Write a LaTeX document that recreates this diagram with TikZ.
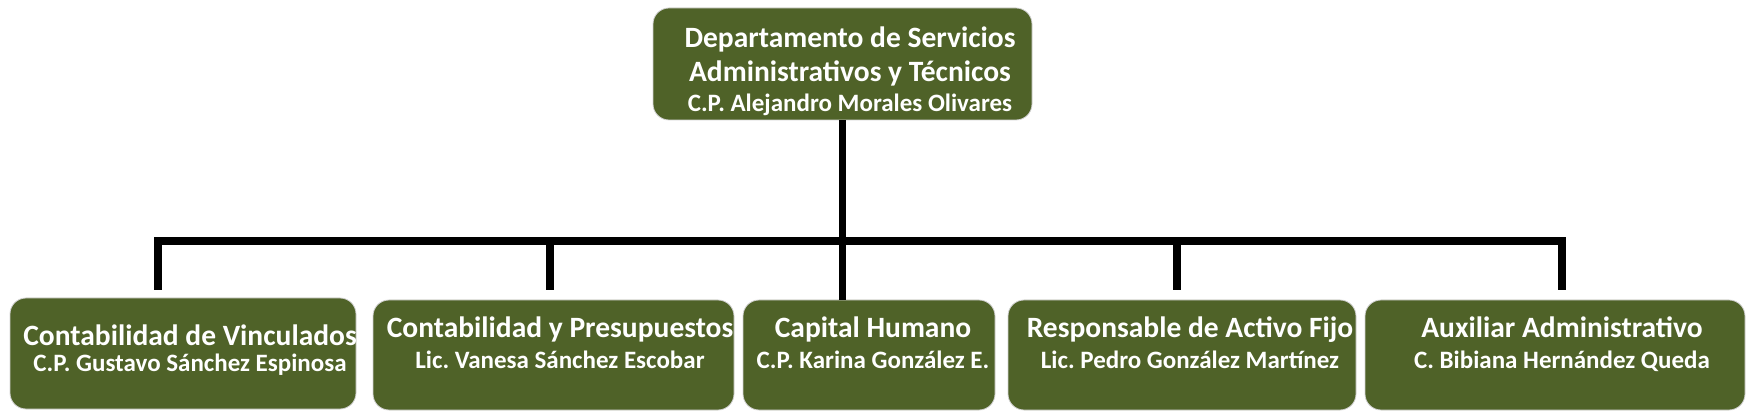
\documentclass[tikz,border=0pt]{standalone}
\usepackage{fontspec}
\setmainfont{Carlito}
\definecolor{olive}{HTML}{4F6228}
\frenchspacing
\begin{document}
\begin{tikzpicture}[x=1pt,y=-1pt,
  box/.style={draw=gray!35,line width=0.8pt,fill=olive,rounded corners=16pt,inner sep=0pt},
  tA/.style={text=white,font=\bfseries\fontsize{29.5}{34}\selectfont,inner sep=0pt,anchor=base},
  tB/.style={text=white,font=\bfseries\fontsize{25}{30}\selectfont,inner sep=0pt,anchor=base},
  conn/.style={line width=7.5pt,line join=miter,line cap=rect}]
\useasboundingbox (0,0) rectangle (1753,419);
% boxes (corners given in pixels)
\node[box,minimum width=379pt,minimum height=112pt] (top) at (842.5,64) {};
\node[box,minimum width=346pt,minimum height=111pt] (b1) at (183,353.5) {};
\node[box,minimum width=361pt,minimum height=110pt] (b2) at (553.5,355) {};
\node[box,minimum width=252pt,minimum height=110pt] (b3) at (869,355) {};
\node[box,minimum width=348pt,minimum height=110pt] (b4) at (1182,355) {};
\node[box,minimum width=380pt,minimum height=110pt] (b5) at (1555,355) {};
% texts
\node[tA] (t0a) at (850,48) {Departamento de Servicios};
\node[tA] (t0b) at (850,82) {Administrativos y Técnicos};
\node[tB] (t0c) at (850,112) {C.P. Alejandro Morales Olivares};
\node[tA] (t1a) at (190,345) {Contabilidad de Vinculados};
\node[tB] (t1b) at (190,372) {C.P. Gustavo Sánchez Espinosa};
\node[tA] (t2a) at (560,338) {Contabilidad y Presupuestos};
\node[tB] (t2b) at (560,368) {Lic. Vanesa Sánchez Escobar};
\node[tA] (t3a) at (873,338) {Capital Humano};
\node[tB] (t3b) at (873,368) {C.P. Karina González E.};
\node[tA] (t4a) at (1190,338) {Responsable de Activo Fijo};
\node[tB] (t4b) at (1190,368) {Lic. Pedro González Martínez};
\node[tA] (t5a) at (1562,338) {Auxiliar Administrativo};
\node[tB] (t5b) at (1562,368) {C. Bibiana Hernández Queda};
% connectors
\coordinate (d1) at (158,286);
\coordinate (d2) at (550,286);
\coordinate (d4) at (1177,286);
\coordinate (d5) at (1562,286);
\coordinate (bar) at (842.5,241);
\draw[line width=7.5pt] (top.south) -- (top.south |- b3.north);
\draw[conn] (d1) -- (d1 |- bar) -- (d5 |- bar) -- (d5);
\draw[conn] (d2 |- bar) -- (d2);
\draw[conn] (d4 |- bar) -- (d4);
\end{tikzpicture}
\end{document}
